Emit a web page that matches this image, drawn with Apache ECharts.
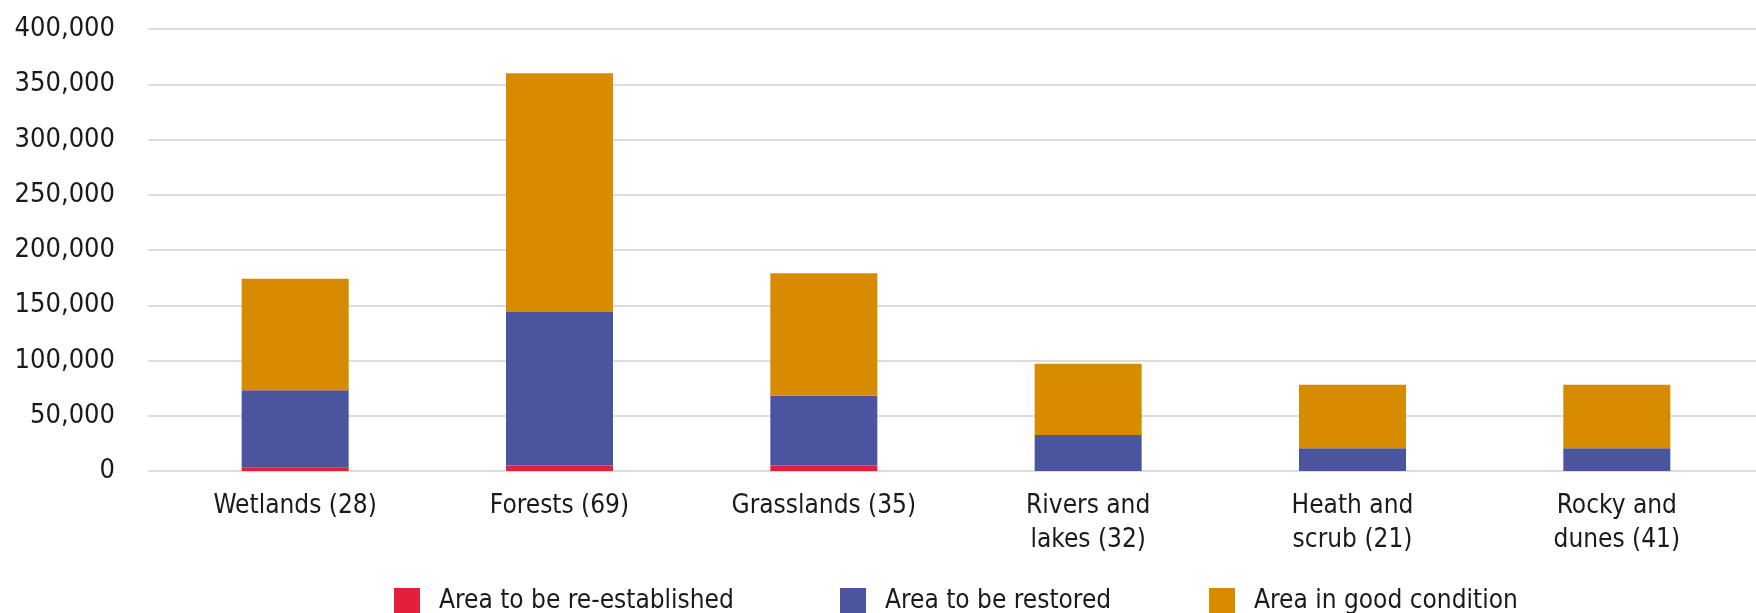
<!DOCTYPE html>
<html><head><meta charset="utf-8">
<script src="https://cdn.jsdelivr.net/npm/echarts@6/dist/echarts.min.js"></script>
<style>html,body{margin:0;padding:0;background:#fff}#c{width:1756px;height:613px}</style>
</head><body><div id="c"></div>
<script>
const categories = ['Wetlands (28)', 'Forests (69)', 'Grasslands (35)', 'Rivers and\nlakes (32)', 'Heath and\nscrub (21)', 'Rocky and\ndunes (41)'];
const reEstablished = [3000, 5000, 5000, 0, 0, 0];
const restored = [70000, 139000, 63000, 32500, 20500, 20500];
const goodCondition = [101000, 216000, 111000, 64500, 57500, 57500];
const yTicks = [0, 50000, 100000, 150000, 200000, 250000, 300000, 350000, 400000];
const seriesNames = ['Area to be re-established', 'Area to be restored', 'Area in good condition'];

const FONT = '"Liberation Sans Narrow", "DejaVu Sans Condensed", "Noto Sans", sans-serif';
const chart = echarts.init(document.getElementById('c'));
const yMin = yTicks[0], yMax = yTicks[yTicks.length - 1], yStep = yTicks[1] - yTicks[0];
const legendLefts = [389, 835, 1204];
chart.setOption({
  animation: false,
  backgroundColor: '#ffffff',
  textStyle: { fontFamily: FONT },
  grid: [
    { left: 163, right: 7, top: 29, bottom: 613 - 471 },
    { left: 148, right: 0, top: 29, bottom: 613 - 471 }
  ],
  legend: seriesNames.map((n, i) => ({
    left: legendLefts[i], top: 583,
    itemWidth: 26, itemHeight: 27,
    icon: 'rect',
    textStyle: { fontFamily: FONT, fontSize: 26, color: '#1a1a1a', padding: [0, 0, 0, 14] },
    data: [n]
  })),
  xAxis: [{
    type: 'category', data: categories, gridIndex: 0,
    axisLine: { show: false }, axisTick: { show: false },
    axisLabel: { fontFamily: FONT, fontSize: 26, color: '#1a1a1a', margin: 18, lineHeight: 34, interval: 0 }
  }, {
    type: 'value', gridIndex: 1, show: false, min: 0, max: 1
  }],
  yAxis: [{
    type: 'value', gridIndex: 0, min: yMin, max: yMax, interval: yStep,
    axisLine: { show: false }, axisTick: { show: false },
    splitLine: { show: false },
    axisLabel: {
      fontFamily: FONT, fontSize: 27, color: '#1a1a1a', margin: 48,
      formatter: v => v.toLocaleString('en-US')
    }
  }, {
    type: 'value', gridIndex: 1, min: yMin, max: yMax, interval: yStep,
    axisLine: { show: false }, axisTick: { show: false }, axisLabel: { show: false },
    splitLine: { lineStyle: { color: '#dcdcdc', width: 2 } }
  }],
  series: [
    { name: seriesNames[0], type: 'bar', stack: 't', data: reEstablished, barWidth: 107, itemStyle: { color: '#e3203a' }, z: 3 },
    { name: seriesNames[1], type: 'bar', stack: 't', data: restored, barWidth: 107, itemStyle: { color: '#4b549e' }, z: 3 },
    { name: seriesNames[2], type: 'bar', stack: 't', data: goodCondition, barWidth: 107, itemStyle: { color: '#d68b00' }, z: 3 }
  ]
});
</script></body></html>
